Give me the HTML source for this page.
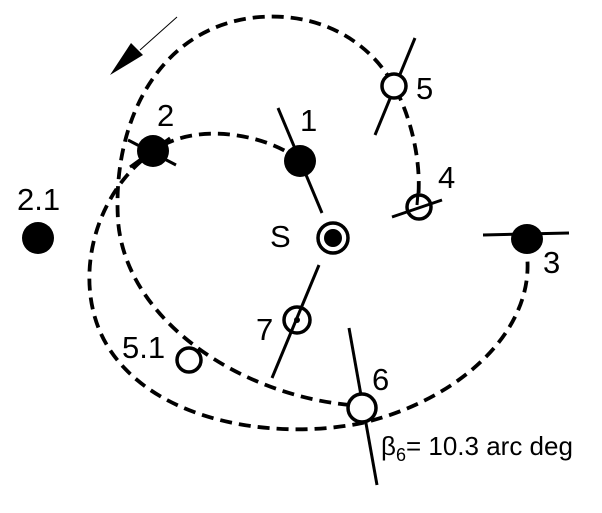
<!DOCTYPE html>
<html><head><style>body{margin:0;background:#fff}svg{display:block}</style></head>
<body>
<svg width="602" height="513" viewBox="0 0 602 513" xmlns="http://www.w3.org/2000/svg" font-family="Liberation Sans, Arial, sans-serif">
<g fill="none" stroke="#000" stroke-width="3.8" stroke-dasharray="12,7">
<path d="M350,405 C 240,395 125,320 118,220 C 112,120 160,25 260,17 C 330,12 375,50 394,86 C 410,115 422,160 418,200"/>
<path d="M300,161 C 270,135 195,120 154,151 C 90,195 70,290 110,350 C 160,425 280,440 362,423 C 460,400 535,330 527,255"/>
</g>
<g stroke="#000" stroke-width="3" fill="none">
<line x1="278" y1="108" x2="322" y2="213"/>
<line x1="319" y1="265" x2="272" y2="378"/>
<line x1="415" y1="38" x2="375" y2="135"/>
<line x1="392" y1="217" x2="442" y2="200"/>
<line x1="483" y1="235" x2="569" y2="233"/>
<line x1="349" y1="328" x2="377" y2="485"/>
<line x1="128" y1="140" x2="176" y2="165"/>
<line x1="130" y1="167" x2="170" y2="138"/>
<line x1="418" y1="193" x2="417" y2="205"/>
<line x1="177" y1="17" x2="140" y2="50" stroke-width="1"/>
</g>
<polygon points="110,75 131,43 143,55" fill="#000"/>
<g fill="#000">
<ellipse cx="300" cy="161" rx="16" ry="16"/>
<ellipse cx="153" cy="151" rx="16" ry="16"/>
<ellipse cx="38" cy="238" rx="16" ry="16"/>
<ellipse cx="527" cy="239" rx="16" ry="15"/>
<circle cx="333" cy="238" r="9"/>
<circle cx="297" cy="320" r="3"/>
</g>
<g fill="#fff" stroke="#000" stroke-width="3.5">
<circle cx="333" cy="238" r="15" fill="none"/>
<circle cx="394" cy="86" r="12"/>
<circle cx="419" cy="207" r="12" fill="none"/>
<circle cx="297" cy="320" r="13" fill="none"/>
<circle cx="189" cy="360" r="12"/>
<circle cx="362" cy="408" r="14"/>
</g>
<g font-size="31" fill="#000">
<text x="300" y="131">1</text>
<text x="157" y="126">2</text>
<text x="17" y="210">2.1</text>
<text x="416" y="99">5</text>
<text x="438" y="188">4</text>
<text x="270" y="247">S</text>
<text x="543" y="273">3</text>
<text x="256" y="340">7</text>
<text x="122" y="358">5.1</text>
<text x="372" y="390">6</text>
</g>
<text x="381" y="455" font-size="26" fill="#000">β<tspan font-size="18" dy="6">6</tspan><tspan dy="-6">= 10.3 arc deg</tspan></text>
</svg>
</body></html>
